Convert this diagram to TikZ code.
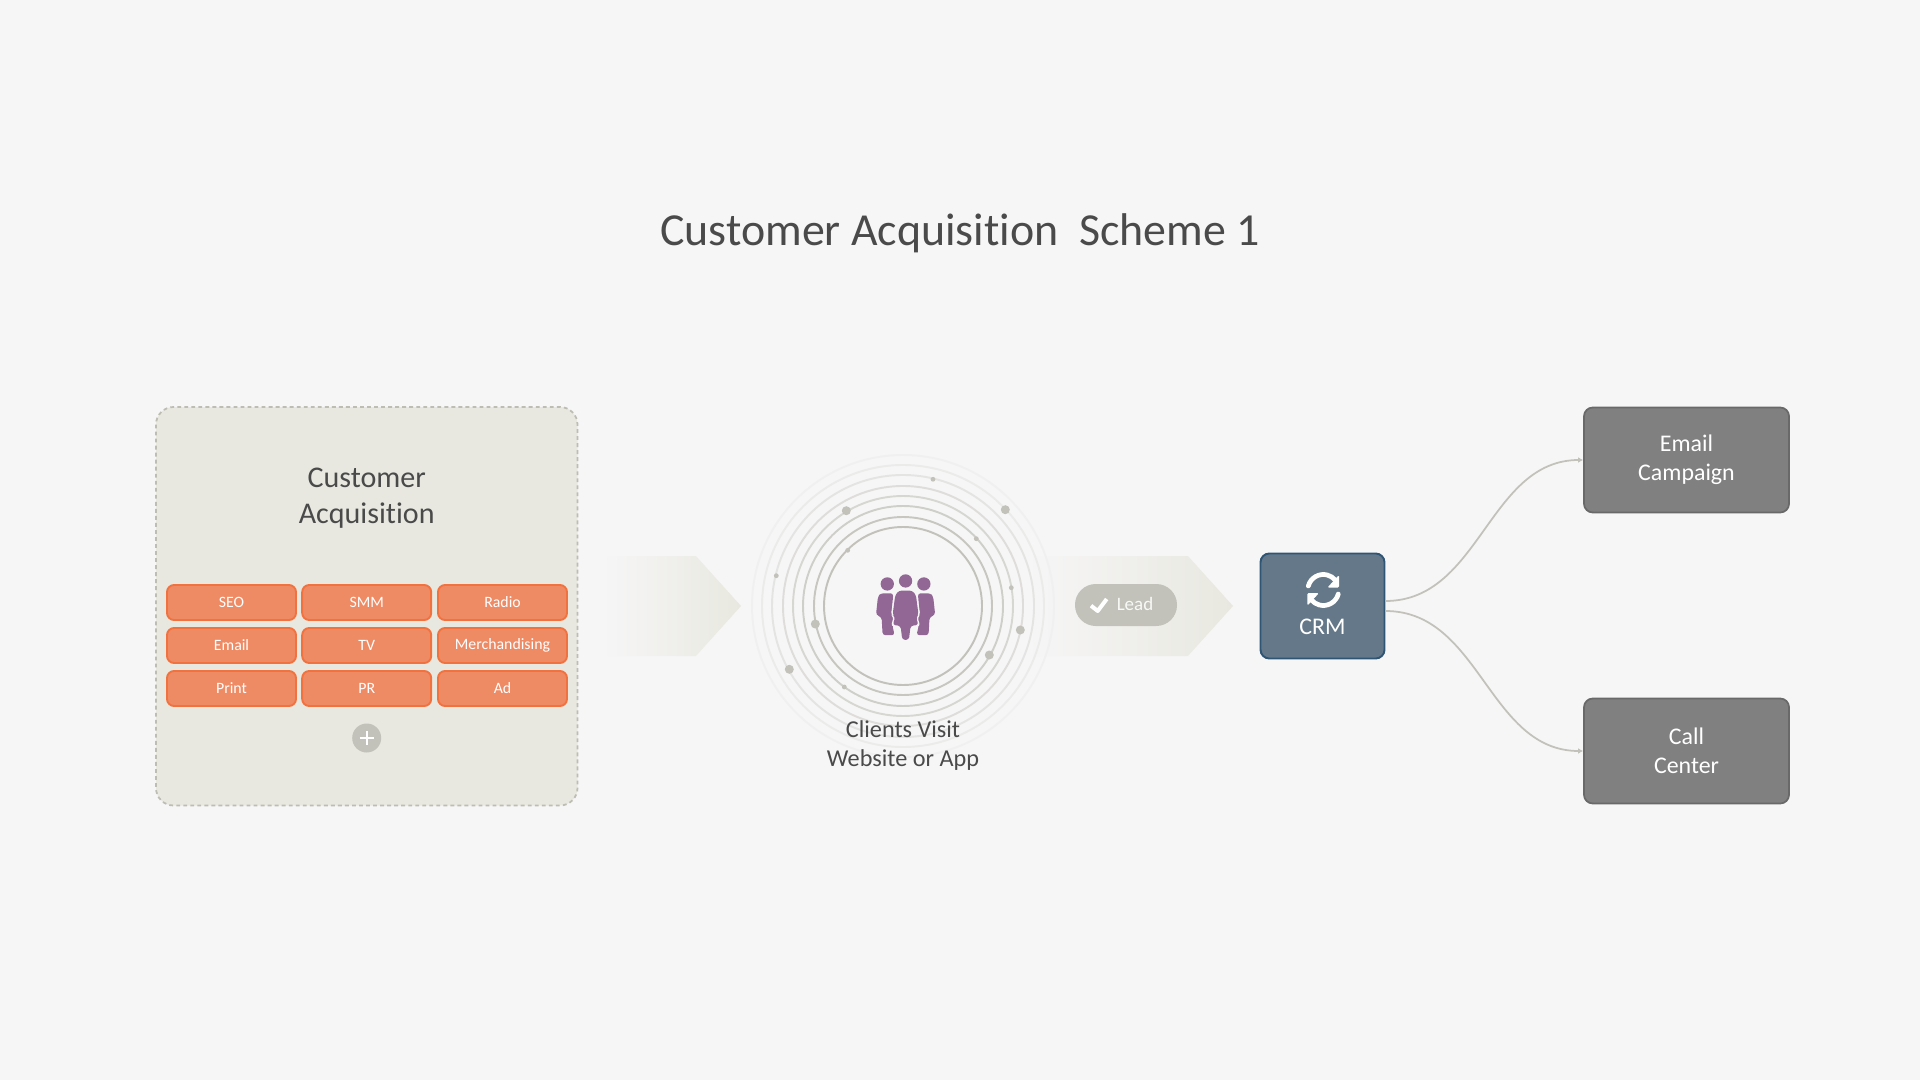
\documentclass[tikz,border=0pt]{standalone}
\usepackage{fontspec}
\setmainfont[Ligatures=NoCommon]{Carlito}
\usetikzlibrary{arrows.meta}
\definecolor{pagebg}{HTML}{F7F6F7}
\definecolor{panelbeige}{HTML}{E8E8E0}
\definecolor{panelline}{HTML}{BDBDB3}
\definecolor{darktext}{HTML}{4A4A4A}
\definecolor{channelorange}{HTML}{EE8B65}
\definecolor{channelline}{HTML}{F2723F}
\definecolor{crmblue}{HTML}{64788A}
\definecolor{crmline}{HTML}{2F5575}
\definecolor{targetgrey}{HTML}{808080}
\definecolor{targetline}{HTML}{696969}
\definecolor{clientpurple}{HTML}{926795}
\definecolor{ringgrey}{HTML}{C2C2BA}
\tikzset{
  channel/.style={draw=channelline, line width=0.55pt, fill=channelorange, rounded corners=2pt,
    minimum width=1.29cm, minimum height=0.35cm, inner sep=0pt, text=white,
    font=\fontsize{4.5}{5.4}\selectfont},
  target/.style={draw=targetline, line width=0.5pt, fill=targetgrey, rounded corners=2.5pt,
    minimum width=2.05cm, minimum height=1.05cm, inner sep=0pt, align=center, text=white,
    font=\fontsize{6.8}{8.2}\selectfont},
  heading/.style={align=center, text=darktext, inner sep=0pt},
  link/.style={draw=ringgrey, line width=0.5pt, -{Latex[length=1.4pt,width=1.6pt]}},
  flow/.style={left color=pagebg, middle color=panelbeige!70!pagebg, right color=panelbeige},
  syncarc/.style={draw=white, line width=1.35pt, line cap=round}
}
\begin{document}
\begin{tikzpicture}[x=1cm, y=-1cm]
\fill[pagebg] (0,0) rectangle (19.2,10.8);
\node[heading, font=\fontsize{13.05}{15}\selectfont] (title) at (9.6,2.335) {Customer Acquisition\ \ Scheme 1};
\draw[fill=panelbeige, draw=panelline, line width=0.5pt, dash pattern=on 1.1pt off 0.9pt, rounded corners=5pt] (1.56,4.07) rectangle (5.775,8.055);
\node[heading, font=\fontsize{8.55}{10.2}\selectfont] (acquisition) at (3.667,4.985) {Customer\\Acquisition};
\node[channel] (seo) at (2.315,6.025) {SEO};
\node[channel] (smm) at (3.667,6.025) {SMM};
\node[channel] (radio) at (5.025,6.025) {Radio};
\node[channel] (email) at (2.315,6.455) {Email};
\node[channel] (tv) at (3.667,6.455) {TV};
\node[channel] (merch) at (5.025,6.455) {Merchandising};
\node[channel] (print) at (2.315,6.885) {Print};
\node[channel] (pr) at (3.667,6.885) {PR};
\node[channel] (ad) at (5.025,6.885) {Ad};
\node[circle, fill=ringgrey, minimum size=0.29cm, inner sep=0pt] (more) at (3.667,7.38) {};
\draw[white, line width=0.5pt] (3.667,7.31) -- (3.667,7.45) (3.597,7.38) -- (3.737,7.38);
\shade[flow] (6.02,5.56) -- (6.96,5.56) -- (7.41,6.06) -- (6.96,6.56) -- (6.02,6.56) -- cycle;
\shade[flow] (10.25,5.56) -- (11.88,5.56) -- (12.33,6.06) -- (11.88,6.56) -- (10.25,6.56) -- cycle;
\coordinate (rings) at (9.03,6.06);
\foreach \r/\o in {0.79/100,0.89/90,1.00/75,1.10/60,1.20/48,1.31/35,1.41/22,1.51/12}
  \draw[ringgrey!\o!pagebg, line width=0.55pt] (rings) circle[radius=\r cm];
\foreach \x/\y in {8.463/5.107,10.053/5.097,10.203/6.30,9.893/6.55,7.893/6.693,8.153/6.24}
  \fill[ringgrey] (\x,\y) circle[radius=0.045cm];
\foreach \x/\y in {9.33/4.793,9.763/5.387,10.113/5.877,8.443/6.87,7.763/5.757,8.477/5.503}
  \fill[ringgrey] (\x,\y) circle[radius=0.024cm];
\begin{scope}[shift={(8.6,5.6)}, scale=0.00333]
\fill[clientpurple] (82,72) circle[radius=20];
\fill[clientpurple] (137,63) circle[radius=20];
\fill[clientpurple] (192,72) circle[radius=20];
\fill[clientpurple, rounded corners=0.8pt] (62,100) -- (100,100) -- (96,150) -- (104,172) -- (97,195) -- (104,226) -- (68,226) -- (65,172) -- (48,165) -- (54,110) -- cycle;
\fill[clientpurple, rounded corners=0.8pt] (212,100) -- (174,100) -- (178,150) -- (170,172) -- (177,195) -- (170,226) -- (206,226) -- (209,172) -- (226,165) -- (220,110) -- cycle;
\fill[pagebg, rounded corners=0.8pt] (113,88) -- (161,88) -- (172,105) -- (181,165) -- (173,172) -- (181,199) -- (156,202) -- (151,244) -- (123,244) -- (118,202) -- (93,199) -- (101,172) -- (93,165) -- (102,105) -- cycle;
\fill[clientpurple, rounded corners=0.8pt] (117,92) -- (157,92) -- (168,105) -- (176,165) -- (168,172) -- (176,195) -- (152,198) -- (147,240) -- (127,240) -- (122,198) -- (98,195) -- (106,172) -- (98,165) -- (106,105) -- cycle;
\end{scope}
\node[heading, font=\fontsize{6.9}{8.2}\selectfont] (clients) at (9.03,7.455) {Clients Visit\\Website or App};
\node[fill=ringgrey, rounded corners=5.9pt, minimum width=1.02cm, minimum height=0.42cm, inner sep=0pt] (lead) at (11.26,6.05) {};
\draw[white, line width=1.15pt, line join=round] (10.91,6.057) -- (10.977,6.11) -- (11.067,5.99);
\node[text=white!88!ringgrey, inner sep=0pt, font=\fontsize{5.4}{6}\selectfont] (leadlabel) at (11.35,6.04) {Lead};
\node[draw=crmline, line width=0.55pt, fill=crmblue, rounded corners=2.5pt, minimum width=1.24cm, minimum height=1.05cm, text=white, inner sep=0pt] (crm) at (13.225,6.06) {};
\node[text=white, inner sep=0pt, font=\fontsize{6.8}{8}\selectfont] (crmlabel) at (13.225,6.27) {CRM};
\coordinate (crmicon) at (13.233,5.9);
\draw[syncarc] ([shift={(165:0.155cm)}]crmicon) arc[start angle=165, end angle=40, radius=0.155cm];
\draw[syncarc] ([shift={(345:0.155cm)}]crmicon) arc[start angle=345, end angle=220, radius=0.155cm];
\fill[white, rounded corners=0.4pt] (13.39,5.75) -- (13.39,5.877) -- (13.273,5.877) -- cycle;
\fill[white, rounded corners=0.4pt] (13.073,5.93) -- (13.19,5.93) -- (13.073,6.057) -- cycle;
\node[target] (emailcampaign) at (16.865,4.6) {Email\\Campaign};
\node[target] (callcenter) at (16.865,7.51) {Call\\Center};
\draw[link] ([yshift=0.05cm]crm.east) to[out=0, in=180] (emailcampaign.west);
\draw[link] ([yshift=-0.05cm]crm.east) to[out=0, in=180] (callcenter.west);
\end{tikzpicture}
\end{document}
